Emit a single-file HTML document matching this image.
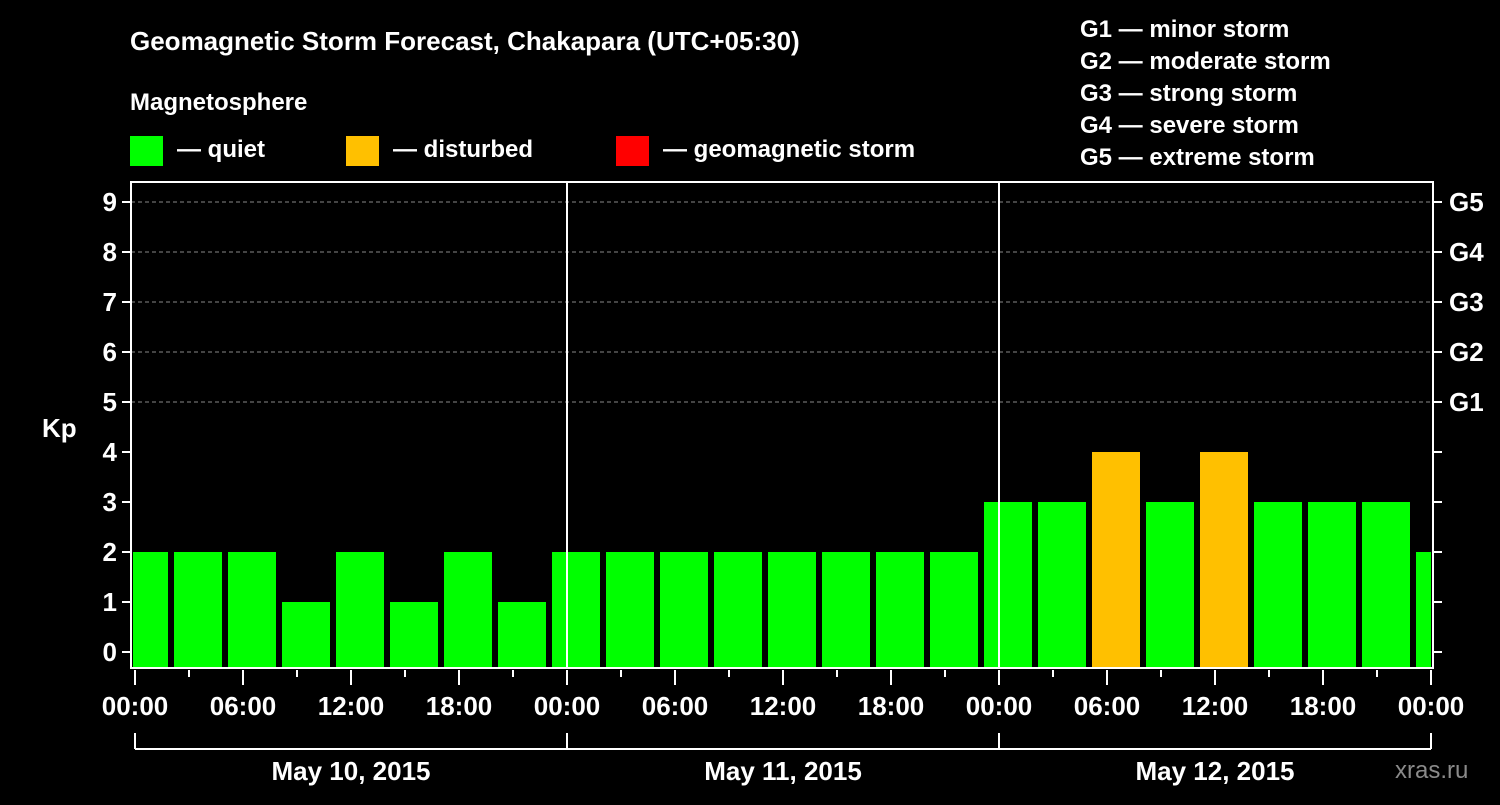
<!DOCTYPE html>
<html><head><meta charset="utf-8"><style>
body{margin:0;background:#000;width:1500px;height:800px;overflow:hidden}
svg text{font-family:"Liberation Sans",sans-serif;font-weight:bold;fill:#fff}
</style></head><body>
<svg id="chart" width="1500" height="800" xmlns="http://www.w3.org/2000/svg">
<text x="130" y="50" font-size="26">Geomagnetic Storm Forecast, Chakapara (UTC+05:30)</text>
<text x="130" y="110" font-size="24">Magnetosphere</text>
<rect x="130" y="136" width="33" height="30" fill="#00ff00"/>
<text x="177" y="157" font-size="24">— quiet</text>
<rect x="346" y="136" width="33" height="30" fill="#ffc000"/>
<text x="393" y="157" font-size="24">— disturbed</text>
<rect x="616" y="136" width="33" height="30" fill="#ff0000"/>
<text x="663" y="157" font-size="24">— geomagnetic storm</text>
<g font-size="24">
<text x="1080" y="37">G1 — minor storm</text>
<text x="1080" y="69">G2 — moderate storm</text>
<text x="1080" y="101">G3 — strong storm</text>
<text x="1080" y="133">G4 — severe storm</text>
<text x="1080" y="165">G5 — extreme storm</text>
</g>
<text x="42" y="437" font-size="26">Kp</text>
<text x="1395" y="778" font-size="24" fill="#888" style="fill:#8a8a8a;font-weight:normal">xras.ru</text>
<g id="plot"></g>
</svg>
<script>
const kpValues=[2,2,2,1,2,1,2,1,2,2,2,2,2,2,2,2,3,3,4,3,4,3,3,3,2];
const yTicks=[0,1,2,3,4,5,6,7,8,9];
const gLabels=["G1","G2","G3","G4","G5"];
const xTickLabels=["00:00","06:00","12:00","18:00","00:00","06:00","12:00","18:00","00:00","06:00","12:00","18:00","00:00"];
const dayLabels=["May 10, 2015","May 11, 2015","May 12, 2015"];
const startHour=-1; // first slot start (hours from axis start)
const L=131,R=1433,T=182,B=668,X0=135,DAYW=432;
const xs=h=>X0+h*DAYW/24;
const ys=v=>652-50*v;
const NS="http://www.w3.org/2000/svg";
const g=document.getElementById('plot');
function el(t,a){const e=document.createElementNS(NS,t);for(const k in a)e.setAttribute(k,a[k]);g.appendChild(e);return e;}
// clip
const cp=el('clipPath',{id:'pc'});cp.appendChild(Object.assign(document.createElementNS(NS,'rect'),{}));
cp.firstChild.setAttribute('x',L+2);cp.firstChild.setAttribute('y',T);cp.firstChild.setAttribute('width',R-L-4);cp.firstChild.setAttribute('height',B-T);
// gridlines
yTicks.forEach(v=>{if(v>=5){const ln=el('line',{x1:L,x2:R,y1:ys(v),y2:ys(v),stroke:'#888','stroke-dasharray':'4,3','stroke-width':1});

}});
// bars
kpValues.forEach((v,i)=>{const x=xs(startHour+i*3)+3,w=xs(3)-X0-6;
const r=el('rect',{x:x,y:ys(v),width:w,height:B-ys(v),fill:v>=5?'#ff0000':(v>=4?'#ffc000':'#00ff00'),'clip-path':'url(#pc)'});

});
// day separators
[1,2].forEach(d=>{const ln=el('line',{x1:xs(d*24),x2:xs(d*24),y1:T,y2:B,stroke:'#fff','stroke-width':2});

});
// frame
const fr=el('rect',{x:L,y:T,width:R-L,height:B-T,fill:'none',stroke:'#fff','stroke-width':2});


// y ticks
yTicks.forEach(v=>{el('line',{x1:L-9,x2:L,y1:ys(v),y2:ys(v),stroke:'#fff','stroke-width':2});
el('line',{x1:R,x2:R+9,y1:ys(v),y2:ys(v),stroke:'#fff','stroke-width':2});
const t=el('text',{x:L-14,y:ys(v)+9,'font-size':26,'text-anchor':'end'});t.textContent=v;

});
gLabels.forEach((s,i)=>{const t=el('text',{x:R+16,y:ys(5+i)+9,'font-size':26});t.textContent=s;

});
// x ticks
for(let h=0;h<=72;h+=3){el('line',{x1:xs(h),x2:xs(h),y1:B+2,y2:h%6==0?B+17:B+9,stroke:'#fff','stroke-width':2});}
xTickLabels.forEach((s,i)=>{const t=el('text',{x:xs(i*6),y:715,'font-size':26,'text-anchor':'middle'});t.textContent=s;

});
// date bracket
el('line',{x1:xs(0),x2:xs(72),y1:749,y2:749,stroke:'#fff','stroke-width':2});
for(let d=0;d<=3;d++)el('line',{x1:xs(d*24),x2:xs(d*24),y1:733,y2:749,stroke:'#fff','stroke-width':2});
dayLabels.forEach((s,i)=>{const t=el('text',{x:xs(i*24+12),y:780,'font-size':26,'text-anchor':'middle'});t.textContent=s;

});
</script>
</body></html>
